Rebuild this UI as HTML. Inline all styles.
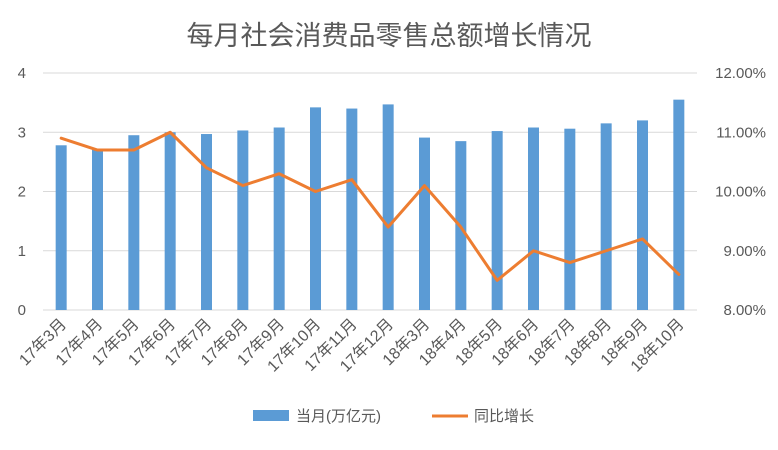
<!DOCTYPE html>
<html><head><meta charset="utf-8"><style>
body{margin:0;background:#fff;}
svg text{font-family:"Liberation Sans","Noto Sans CJK SC",sans-serif;}
</style></head><body>
<svg id="c" width="778" height="445" xmlns="http://www.w3.org/2000/svg">
<text x="389" y="45" text-anchor="middle" font-size="27" fill="#595959">每月社会消费品零售总额增长情况</text>
<g id="grid"></g><g id="bars"></g><g id="line"></g><g id="axes"></g>
<g>
<rect x="253" y="410" width="36" height="11" fill="#5b9bd5"/>
<text x="296" y="421" font-size="15" fill="#595959">当月(万亿元)</text>
<line x1="432" y1="416" x2="468" y2="416" stroke="#ed7d31" stroke-width="3"/>
<text x="474" y="421" font-size="15" fill="#595959">同比增长</text>
</g>
</svg>
<script>
const categories=["17年3月","17年4月","17年5月","17年6月","17年7月","17年8月","17年9月","17年10月","17年11月","17年12月","18年3月","18年4月","18年5月","18年6月","18年7月","18年8月","18年9月","18年10月"];
const monthly=[2.78,2.72,2.95,3.0,2.97,3.03,3.08,3.42,3.40,3.47,2.91,2.85,3.02,3.08,3.06,3.15,3.20,3.55];
const growth=[10.9,10.7,10.7,11.0,10.4,10.1,10.3,10.0,10.2,9.4,10.1,9.4,8.5,9.0,8.8,9.0,9.2,8.6];
const leftTicks=[0,1,2,3,4];
const rightTicks=["8.00%","9.00%","10.00%","11.00%","12.00%"];
const NS="http://www.w3.org/2000/svg";
const L=43,R=697,T=73,B=310;
const step=(R-L)/categories.length;
const xc=i=>L+step*(i+0.5);
const yl=v=>B-(v/4)*(B-T);
const yr=v=>B-((v-8)/4)*(B-T);
function mk(t,a,p){const e=document.createElementNS(NS,t);for(const k in a)e.setAttribute(k,a[k]);p.appendChild(e);return e;}
const g=document.getElementById('grid'),bars=document.getElementById('bars'),ln=document.getElementById('line'),ax=document.getElementById('axes');
leftTicks.forEach((v,i)=>{
 const y=yl(v);
 const l=mk('line',{x1:L,x2:R,y1:y,y2:y,stroke:'#d9d9d9','stroke-width':1},g);
 
 
 const t=mk('text',{x:26,y:y+5,'text-anchor':'end','font-size':15,fill:'#595959'},ax);t.textContent=v;
 
 
 const t2=mk('text',{x:766,y:y+5,'text-anchor':'end','font-size':15,fill:'#595959'},ax);t2.textContent=rightTicks[i];
 
 
});
const bw=11;
monthly.forEach((v,i)=>{
 const r=mk('rect',{x:xc(i)-bw/2,y:yl(v),width:bw,height:B-yl(v),fill:'#5b9bd5'},bars);
 
 
 const t=mk('text',{x:0,y:0,'text-anchor':'end','font-size':16,fill:'#595959',transform:`translate(${xc(i)+6},${B+15}) rotate(-45)`},ax);
 t.textContent=categories[i];
 
 
});
const p=mk('polyline',{points:growth.map((v,i)=>xc(i)+','+yr(v)).join(' '),fill:'none',stroke:'#ed7d31','stroke-width':3,'stroke-linejoin':'round','stroke-linecap':'round'},ln);


</script>
</body></html>
